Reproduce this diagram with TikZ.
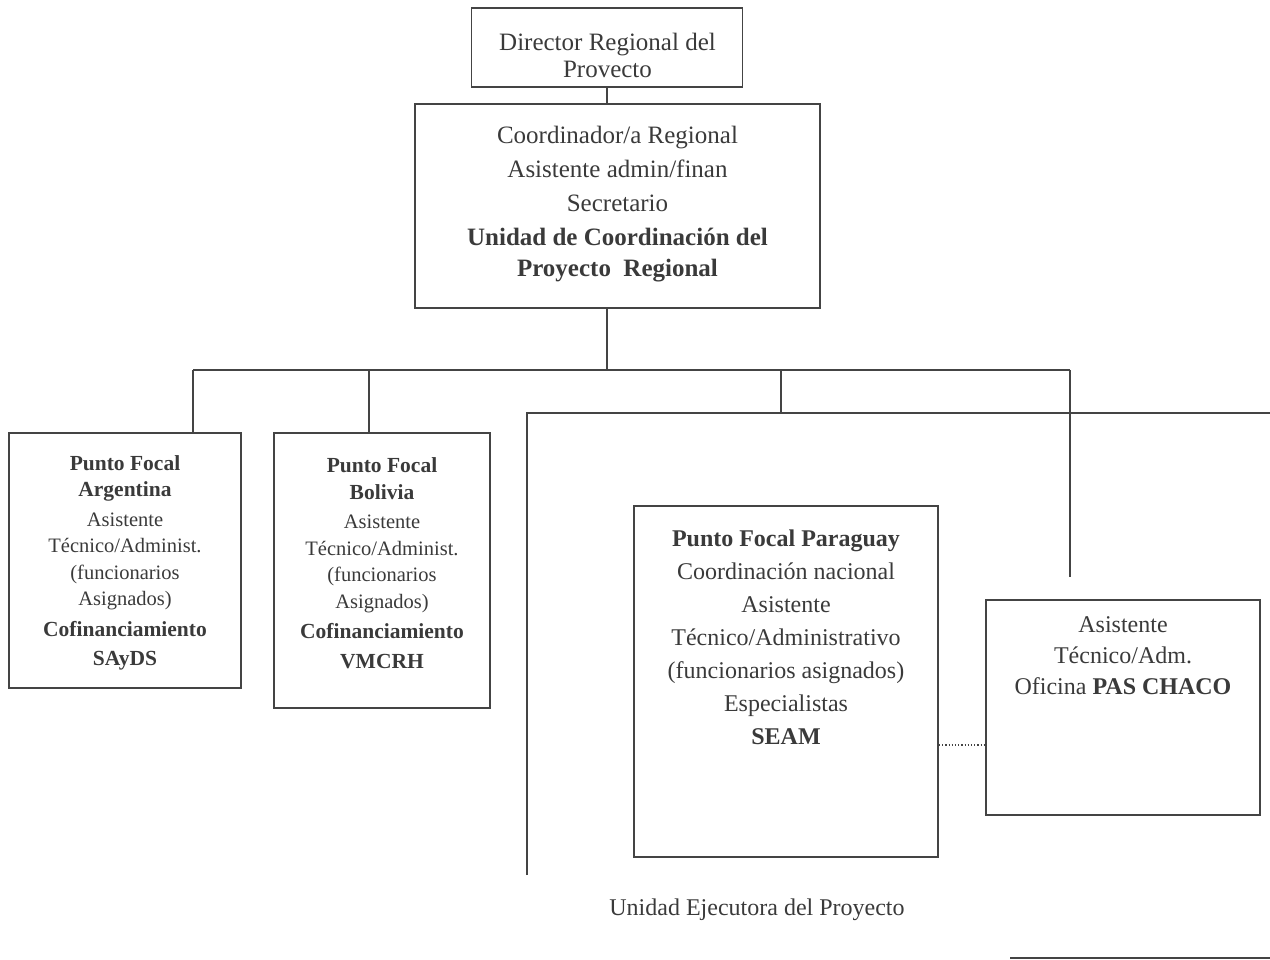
\documentclass[tikz,border=0pt]{standalone}
\usepackage{fontspec}
\setmainfont{Liberation Serif}
\definecolor{ink}{HTML}{3A3A3A}
\definecolor{linec}{HTML}{444444}
\begin{document}
\begin{tikzpicture}[x=1pt,y=-1pt,
  box/.style={draw=linec, line width=1.8pt, inner sep=0pt, rectangle},
  bigtxt/.style={text=ink, align=center, inner sep=0pt, font=\fontsize{25}{34}\selectfont},
  smalltxt/.style={text=ink, align=center, inner sep=0pt, font=\fontsize{20.5}{26.5}\selectfont},
  conn/.style={draw=linec, line width=1.8pt},
  dotconn/.style={draw=linec, line width=1.2pt, dotted}]
\useasboundingbox (0,0) rectangle (1270,960);
% boxes
\node[box, minimum width=271pt, minimum height=79pt] (dir) at (607,47.5) {};
\node[box, minimum width=405pt, minimum height=204pt] (coord) at (617.5,206) {};
\node[box, minimum width=232pt, minimum height=255pt] (arg) at (125,560.5) {};
\node[box, minimum width=216pt, minimum height=275pt] (bol) at (382,570.5) {};
\node[box, minimum width=304pt, minimum height=351pt] (par) at (786,681.5) {};
\node[box, minimum width=274pt, minimum height=215pt] (pas) at (1123,707.5) {};
% texts
\node[bigtxt, font=\fontsize{25}{27}\selectfont] (dirT) at (607.5,55) {Director Regional del\\Provecto};
\node[bigtxt, font=\fontsize{25}{34}\selectfont] (coordT) at (617.5,204) {Coordinador/a Regional\\Asistente admin/finan\\Secretario\\\textbf{Unidad de Coordinación del}\\[-3pt]\textbf{Proyecto\ \ Regional}};
\node[smalltxt] (argT) at (125,563) {\textbf{\fontsize{21.5}{26.5}\selectfont Punto Focal}\\\textbf{\fontsize{21.5}{26.5}\selectfont Argentina}\\[3pt]Asistente\\Técnico/Administ.\\(funcionarios\\Asignados)\\[4pt]\textbf{\fontsize{21.5}{26.5}\selectfont Cofinanciamiento}\\[3pt]\textbf{\fontsize{21.5}{26.5}\selectfont SAyDS}};
\node[smalltxt] (bolT) at (382,563) {\textbf{\fontsize{21.5}{26.5}\selectfont Punto Focal}\\\textbf{\fontsize{21.5}{26.5}\selectfont Bolivia}\\[3pt]Asistente\\Técnico/Administ.\\(funcionarios\\Asignados)\\[4pt]\textbf{\fontsize{21.5}{26.5}\selectfont Cofinanciamiento}\\[3pt]\textbf{\fontsize{21.5}{26.5}\selectfont VMCRH}};
\node[bigtxt, font=\fontsize{24}{33}\selectfont] (parT) at (786,637) {\textbf{Punto Focal Paraguay}\\Coordinación nacional\\Asistente\\Técnico/Administrativo\\(funcionarios asignados)\\Especialistas\\\textbf{SEAM}};
\node[bigtxt, font=\fontsize{24}{31}\selectfont] (pasT) at (1123,656) {Asistente\\Técnico/Adm.\\Oficina \textbf{PAS CHACO}};
\node[bigtxt, font=\fontsize{24}{30}\selectfont] (ueT) at (757,910) {Unidad Ejecutora del Proyecto};
% coordinates
\coordinate (busL) at (193,370);
\coordinate (busR) at (1070,370);
\coordinate (busB) at (369,370);
\coordinate (busU) at (781,370);
\coordinate (ueTL) at (527,413);
\coordinate (ueTR) at (1270,413);
\coordinate (ueBL) at (527,875);
\coordinate (pasDrop) at (1070,577);
\coordinate (dotY) at (0,745);
\coordinate (blA) at (1010,958);
\coordinate (blB) at (1270,958);
% connectors
\draw[conn] (dir.south) -- (dir.south |- coord.north);
\draw[conn] (coord.south -| dir.south) -- (dir.south |- busL);
\draw[conn] (busL) -- (busR);
\draw[conn] (busL) -- (busL |- arg.north);
\draw[conn] (busB) -- (busB |- bol.north);
\draw[conn] (busU) -- (busU |- ueTL);
\draw[conn] (ueBL) -- (ueTL) -- (ueTR);
\draw[conn] (busR) -- (pasDrop);
\draw[dotconn] (par.east |- dotY) -- (pas.west |- dotY);
\draw[draw=linec, line width=1.2pt] (blA) -- (blB);
\end{tikzpicture}
\end{document}
